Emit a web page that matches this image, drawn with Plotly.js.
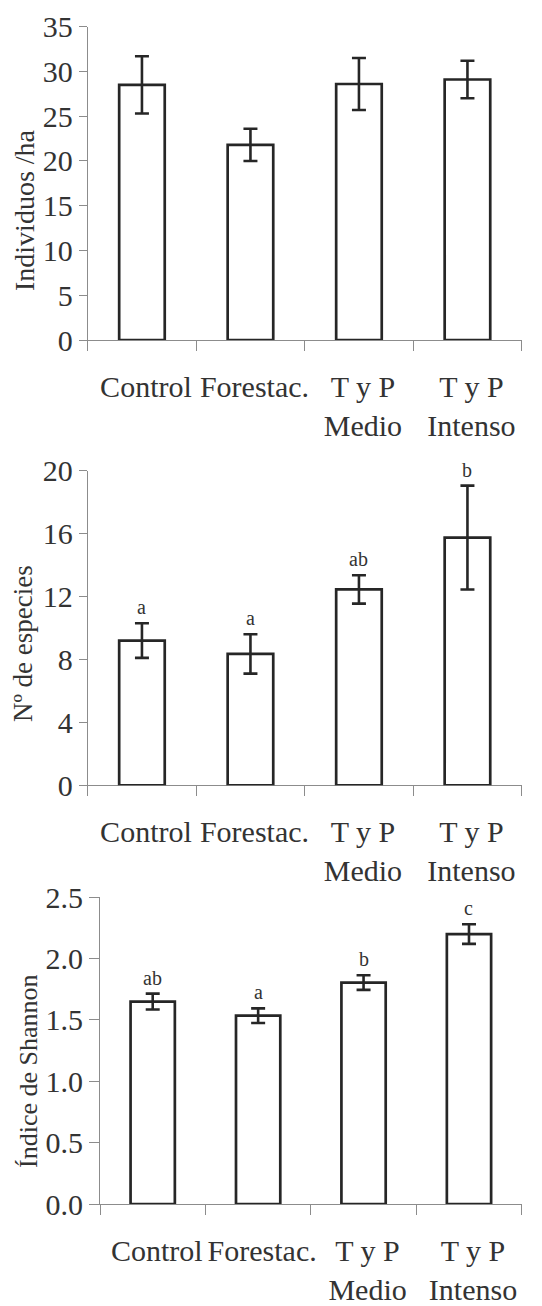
<!DOCTYPE html>
<html><head><meta charset="utf-8">
<script src="https://cdn.plot.ly/plotly-3.0.1.min.js"></script>
<style>html,body{margin:0;padding:0;background:#fff}#chart{width:542px;height:1306px}</style>
</head><body><div id="chart"></div>
<script>
const categories = ["Control", "Forestac.", "T y P<br>Medio", "T y P<br>Intenso"];
const individuos = [28.5, 21.8, 28.6, 29.1];
const individuosErr = [3.2, 1.8, 2.9, 2.1];
const especies = [9.2, 8.35, 12.45, 15.75];
const especiesErr = [1.1, 1.25, 0.9, 3.3];
const especiesLetters = ["a", "a", "ab", "b"];
const shannon = [1.65, 1.535, 1.805, 2.2];
const shannonErr = [0.065, 0.06, 0.06, 0.08];
const shannonLetters = ["ab", "a", "b", "c"];
const yTitles = ["Individuos /ha", "Nº de especies", "Índice de Shannon"];
const yTicks1 = [0, 5, 10, 15, 20, 25, 30, 35];
const yTicks2 = [0, 4, 8, 12, 16, 20];
const yTicks3 = [0, 0.5, 1.0, 1.5, 2.0, 2.5];

const W = 542, H = 1306;
const fx = p => p / W;
const fy = p => 1 - p / H;
const ink = '#262626';
const axisGray = '#8c8c8c';
const serif = 'Liberation Serif';
const txt = '#333333';

function barTrace(vals, errs, xa, ya) {
  return {
    type: 'bar', x: categories, y: vals, xaxis: xa, yaxis: ya,
    width: 0.42, cliponaxis: false, hoverinfo: 'skip',
    marker: {color: '#ffffff', line: {color: ink, width: 2.7}},
    error_y: {type: 'data', array: errs, visible: true, color: ink, thickness: 2.6, width: 7}
  };
}

const data = [
  barTrace(individuos, individuosErr, 'x', 'y'),
  barTrace(especies, especiesErr, 'x2', 'y2'),
  barTrace(shannon, shannonErr, 'x3', 'y3')
];

function xAxis(domain, anchor) {
  return {
    domain: domain, anchor: anchor, type: 'category', range: [-0.5, 3.5],
    showline: true, linecolor: axisGray, linewidth: 1,
    ticks: 'outside', tickson: 'boundaries', ticklen: 10, tickcolor: axisGray, tickwidth: 1,
    tickangle: 0, tickfont: {family: serif, size: 30, color: txt},
    showgrid: false, zeroline: false, fixedrange: true, layer: 'below traces',
    ticklabelstandoff: 20, ticklabelshift: 4
  };
}
function yAxis(domain, anchor, range, ticks, fmt, tl) {
  return {
    domain: domain, anchor: anchor, range: range, tickvals: ticks, tickformat: fmt,
    showline: true, linecolor: axisGray, linewidth: 1,
    ticks: 'outside', ticklen: tl, tickcolor: axisGray, tickwidth: 1,
    tickfont: {family: serif, size: 30, color: txt},
    showgrid: false, zeroline: false, fixedrange: true, layer: 'below traces'
  };
}

const annotations = [];
const titlePos = [[24, 210], [23, 644], [28, 1071]];
const titleSize = [28, 27, 26];
yTitles.forEach((t, i) => annotations.push({
  text: t, xref: 'paper', yref: 'paper', x: fx(titlePos[i][0]), y: fy(titlePos[i][1]),
  xanchor: 'center', yanchor: 'middle', textangle: -90, showarrow: false,
  font: {family: serif, size: titleSize[i], color: txt}
}));
function letters(labels, vals, errs, xa, ya) {
  labels.forEach((l, i) => annotations.push({
    text: l, x: categories[i], y: vals[i] + errs[i], xref: xa, yref: ya,
    xanchor: 'center', yanchor: 'bottom', yshift: 3, showarrow: false,
    font: {family: serif, size: 20, color: txt}
  }));
}
letters(especiesLetters, especies, especiesErr, 'x2', 'y2');
letters(shannonLetters, shannon, shannonErr, 'x3', 'y3');

const layout = {
  width: W, height: H, margin: {l: 0, r: 0, t: 0, b: 0},
  paper_bgcolor: '#fff', plot_bgcolor: '#fff', showlegend: false,
  font: {family: serif, color: txt},
  xaxis: xAxis([fx(87.7), fx(521.7)], 'y'),
  yaxis: yAxis([fy(340), fy(26.7)], 'x', [0, 35], yTicks1, 'd', 8),
  xaxis2: xAxis([fx(87.7), fx(521.7)], 'y2'),
  yaxis2: yAxis([fy(785.3), fy(470.7)], 'x2', [0, 20], yTicks2, 'd', 8),
  xaxis3: xAxis([fx(100), fx(521.7)], 'y3'),
  yaxis3: yAxis([fy(1204), fy(897.3)], 'x3', [0, 2.5], yTicks3, '.1f', 10),
  annotations: annotations
};

Plotly.newPlot('chart', data, layout, {displayModeBar: false});
</script></body></html>
